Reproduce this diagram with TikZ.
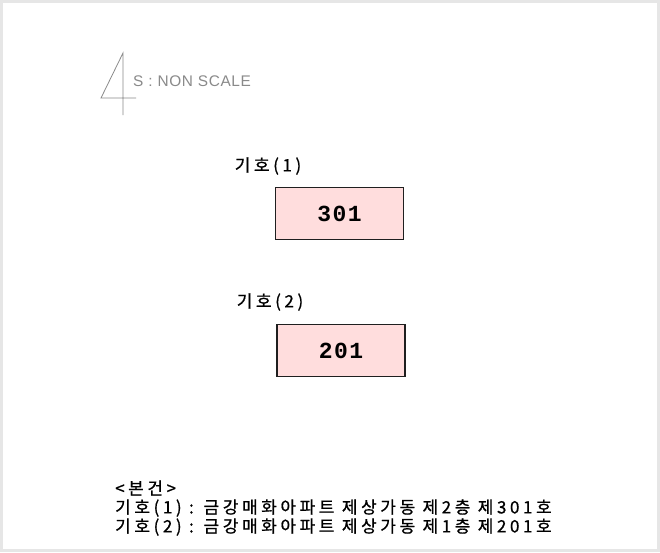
\documentclass[tikz,border=0pt]{standalone}
\usepackage{fontspec}
\newfontfamily\kr[LetterSpace=21,FakeBold=0.8]{Noto Sans CJK KR}
\newfontfamily\numfont[LetterSpace=6]{Liberation Mono}
\newfontfamily\lsans[LetterSpace=4]{Liberation Sans}
\definecolor{boxfill}{HTML}{FFDDDD}
\definecolor{frame}{HTML}{E6E6E6}
\definecolor{scalegray}{HTML}{8A8A8A}
\begin{document}
\begin{tikzpicture}[x=1pt,y=-1pt,
  unitbox/.style={draw=black!88,line width=1.8pt,fill=boxfill,minimum width=128pt,minimum height=52pt,inner sep=0pt,font=\numfont\bfseries\fontsize{23}{25}\selectfont},
  lbl/.style={inner sep=0pt,font=\kr\fontsize{17}{19}\selectfont,text=black},
  note/.style={inner sep=0pt,anchor=west,font=\kr\fontsize{17}{19}\selectfont,text=black},
  scaleline/.style={draw=scalegray,line width=0.8pt}]
\useasboundingbox (0,0) rectangle (660,552);
\fill[frame] (0,0) rectangle (660,552);
\fill[white] (3,3) rectangle (657,549);
% scale mark
\coordinate (s1) at (123,53);
\coordinate (s2) at (123,115);
\coordinate (s3) at (101,98);
\coordinate (s4) at (136,98);
\draw[scaleline] (s2) -- (s1) -- (s3) -- (s4);
\node[inner sep=0pt,anchor=west,text=scalegray,font=\lsans\fontsize{15.4}{17}\selectfont] (scale) at (133,81) {S : NON SCALE};
% boxes
\node[lbl] (l1) at (268,166) {기호(1)};
\node[unitbox] (b1) at (339.5,213.5) {301};
\node[lbl] (l2) at (270,302) {기호(2)};
\node[unitbox] (b2) at (341,350.5) {201};
% notes
\node[note] (n0) at (115,488) {<본건>};
\node[note] (n1) at (115,508) {기호(1) : 금강매화아파트 제상가동 제2층 제301호};
\node[note] (n2) at (115,527) {기호(2) : 금강매화아파트 제상가동 제1층 제201호};
\end{tikzpicture}
\end{document}
